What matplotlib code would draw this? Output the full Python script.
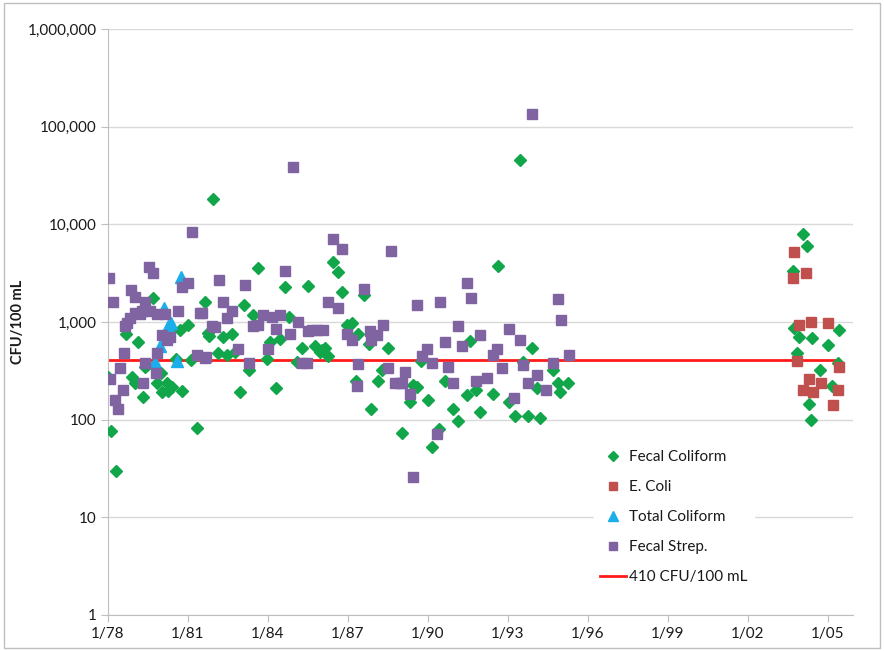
"""Bacteria counts (CFU/100 mL) over time, log scale, with 410 CFU/100 mL reference line."""

import matplotlib
matplotlib.use("Agg")
import matplotlib.pyplot as plt
from matplotlib.ticker import FixedLocator, FuncFormatter, NullLocator
from matplotlib.patches import Rectangle

plt.rcParams["font.family"] = ["Lato", "DejaVu Sans"]

# sample dates as decimal years, values in CFU/100 mL
fecal_coliform_t = [
    1978.00, 1978.11, 1978.30, 1978.68, 1978.90, 1979.01, 1979.13, 1979.31, 1979.39, 1979.46,
    1979.69, 1979.84, 1979.99, 1980.03, 1980.21, 1980.25, 1980.40, 1980.55, 1980.70, 1980.78,
    1981.00, 1981.11, 1981.34, 1981.64, 1981.75, 1981.79, 1981.94, 1982.13, 1982.31, 1982.46,
    1982.65, 1982.76, 1982.95, 1983.10, 1983.29, 1983.44, 1983.63, 1983.96, 1984.08, 1984.30,
    1984.45, 1984.64, 1984.79, 1985.09, 1985.28, 1985.50, 1985.76, 1985.95, 1986.03, 1986.14,
    1986.25, 1986.44, 1986.63, 1986.78, 1986.96, 1987.15, 1987.30, 1987.38, 1987.60, 1987.79,
    1987.86, 1988.13, 1988.28, 1988.50, 1989.03, 1989.33, 1989.44, 1989.59, 1989.74, 1990.00,
    1990.15, 1990.41, 1990.64, 1990.94, 1991.13, 1991.46, 1991.58, 1991.80, 1991.95, 1992.44,
    1992.63, 1993.04, 1993.26, 1993.45, 1993.56, 1993.75, 1993.90, 1994.09, 1994.20, 1994.69,
    1994.88, 1994.95, 1995.25,
    2003.69, 2003.72, 2003.84, 2003.91, 2004.06, 2004.21, 2004.29, 2004.36, 2004.40, 2004.70,
    2005.00, 2005.15, 2005.38, 2005.41,
]
fecal_coliform_v = [
    275, 77, 30, 754, 275, 240, 630, 170, 350, 363,
    1760, 235, 300, 190, 235, 195, 215, 420, 820, 195,
    930, 410, 83, 1600, 770, 720, 18000, 480, 700, 460,
    760, 490, 190, 1480, 320, 1190, 3570, 420, 630, 210,
    670, 2280, 1120, 390, 540, 2340, 570, 490, 520, 540,
    450, 4100, 3250, 2030, 930, 980, 250, 760, 1900, 590,
    130, 250, 320, 540, 73, 150, 225, 215, 400, 160,
    52, 80, 250, 130, 96, 180, 640, 200, 120, 185,
    3740, 150, 110, 46000, 390, 110, 540, 210, 105, 320,
    240, 190, 240,
    3300, 870, 480, 700, 7900, 6000, 145, 100, 680, 320,
    580, 220, 380, 830,
]

e_coli_t = [
    2003.73, 2004.18, 2003.69, 2003.91, 2004.36, 2005.00, 2003.84, 2005.41, 2004.29, 2004.74,
    2004.06, 2004.44, 2005.38, 2005.19,
]
e_coli_v = [
    5200, 3200, 2800, 930, 1000, 980, 400, 350, 260, 240,
    200, 190, 200, 140,
]

total_coliform_t = [1980.74, 1980.10, 1980.36, 1980.25, 1979.95, 1979.76, 1980.59]
total_coliform_v = [2890, 1390, 980, 900, 570, 390, 400]

fecal_strep_t = [
    1981.15, 1978.04, 1979.54, 1979.69, 1978.19, 1980.78, 1981.00, 1978.86, 1979.01, 1979.39,
    1978.83, 1979.01, 1979.20, 1979.28, 1979.58, 1979.84, 1980.14, 1980.63, 1981.45, 1978.71,
    1978.64, 1980.03, 1980.33, 1980.21, 1978.60, 1978.45, 1978.08, 1979.39, 1979.84, 1979.80,
    1979.31, 1978.56, 1978.26, 1978.38, 1981.34, 1981.68, 1984.64, 1982.16, 1983.14, 1981.53,
    1982.31, 1982.65, 1982.46, 1981.90, 1982.01, 1983.44, 1983.63, 1983.81, 1984.15, 1984.45,
    1984.30, 1985.13, 1984.83, 1985.50, 1982.88, 1984.00, 1983.29, 1981.64, 1985.28, 1985.46,
    1984.94, 1986.44, 1986.78, 1988.61, 1987.60, 1986.25, 1986.63, 1985.65, 1985.84, 1986.06,
    1986.96, 1987.15, 1987.83, 1988.09, 1988.31, 1987.86, 1987.38, 1988.50, 1987.34, 1989.14,
    1988.76, 1988.95, 1991.46, 1991.61, 1989.59, 1990.45, 1991.13, 1991.95, 1990.64, 1991.28,
    1989.96, 1989.78, 1990.15, 1990.75, 1992.44, 1992.59, 1989.03, 1989.33, 1990.94, 1991.80,
    1992.21, 1990.34, 1989.44, 1994.88, 1994.99, 1993.04, 1993.45, 1993.56, 1994.69, 1995.29,
    1992.78, 1994.09, 1993.75, 1994.43, 1993.23, 1993.90,
]
fecal_strep_v = [
    8300, 2800, 3700, 3200, 1600, 2300, 2500, 2150, 1800, 1600,
    1100, 1250, 1200, 1300, 1300, 1200, 1200, 1300, 1250, 980,
    900, 730, 700, 650, 480, 340, 260, 380, 480, 300,
    240, 200, 160, 130, 460, 440, 3300, 2700, 2400, 1250,
    1600, 1300, 1100, 900, 880, 900, 930, 1180, 1120, 1180,
    850, 1000, 750, 800, 530, 530, 380, 430, 380, 380,
    39000, 7000, 5600, 5300, 2200, 1600, 1400, 830, 830, 830,
    760, 650, 800, 730, 930, 660, 370, 340, 220, 310,
    240, 240, 2500, 1750, 1500, 1600, 910, 740, 630, 570,
    530, 450, 380, 350, 460, 530, 240, 185, 240, 250,
    270, 71, 26, 1700, 1050, 850, 650, 360, 380, 460,
    340, 290, 240, 200, 165, 136000,
]

limit_t = [1978.0, 2005.41]
limit_v = [410, 410]

x_ticks = [1978, 1981, 1984, 1987, 1990, 1993, 1996, 1999, 2002, 2005]
y_ticks = [1, 10, 100, 1000, 10000, 100000, 1000000]

GREEN = "#12A64A"
RED = "#C0504D"
BLUE = "#1AAEEA"
PURPLE = "#8064A2"
LINE_RED = "#FF1A1A"
GRID = "#D9D9D9"
TEXT = "#1A1A1A"


def main():
    fig = plt.figure(figsize=(8.84, 6.51), dpi=100)
    ax = fig.add_axes([108 / 884, 1 - 615 / 651, (853 - 108) / 884, (615 - 29) / 651])

    h_line, = ax.plot(limit_t, limit_v, color=LINE_RED, lw=2, zorder=2)
    h_fc, = ax.plot(fecal_coliform_t, fecal_coliform_v, ls="none", marker="D", ms=6.5,
                    color=GREEN, mec=GREEN, zorder=3)
    h_ec, = ax.plot(e_coli_t, e_coli_v, ls="none", marker="s", ms=7,
                    color=RED, mec=RED, zorder=4)
    h_tc, = ax.plot(total_coliform_t, total_coliform_v, ls="none", marker="^", ms=8,
                    color=BLUE, mec=BLUE, zorder=4)
    h_fs, = ax.plot(fecal_strep_t, fecal_strep_v, ls="none", marker="s", ms=7,
                    color=PURPLE, mec=PURPLE, zorder=5)

    ax.set_yscale("log")
    ax.set_ylim(1, 1000000)
    ax.set_xlim(1978, 2005.94)
    ax.yaxis.set_major_locator(FixedLocator(y_ticks))
    ax.yaxis.set_minor_locator(NullLocator())
    ax.yaxis.set_major_formatter(FuncFormatter(lambda v, p: f"{int(round(v)):,}"))
    ax.xaxis.set_major_locator(FixedLocator(x_ticks))
    ax.xaxis.set_major_formatter(FuncFormatter(lambda v, p: f"1/{int(round(v)) % 100:02d}"))

    ax.grid(axis="y", color=GRID, lw=1, zorder=0)
    ax.set_axisbelow(True)
    for side in ("top", "right"):
        ax.spines[side].set_visible(False)
    for side in ("left", "bottom"):
        ax.spines[side].set_color("#BFBFBF")
    ax.tick_params(axis="both", colors="#BFBFBF", labelcolor=TEXT, labelsize=11, length=5)
    ax.tick_params(axis="y", pad=3)

    fig.text(18 / 884, 1 - 322 / 651, "CFU/100 mL", rotation=90, ha="center", va="center",
             fontsize=10.5, fontweight="bold", color=TEXT)

    leg = ax.legend([h_fc, h_ec, h_tc, h_fs, h_line],
                    ["Fecal Coliform", "E. Coli", "Total Coliform", "Fecal Strep.", "410 CFU/100 mL"],
                    loc="upper left", bbox_to_anchor=(594 / 884, 1 - 444 / 651),
                    bbox_transform=fig.transFigure, frameon=True, facecolor="white",
                    edgecolor="white", framealpha=1, fontsize=11, labelspacing=1.05,
                    handlelength=1.7, handletextpad=0.2, markerscale=0.85, borderpad=0.4,
                    borderaxespad=0)
    for t in leg.get_texts():
        t.set_color(TEXT)

    # outer chart border
    fig.patches.append(Rectangle((0.004, 0.004), 0.992, 0.992, transform=fig.transFigure,
                                 fill=False, edgecolor="#BFBFBF", lw=1))

    fig.savefig("out.png", dpi=100)
    plt.close(fig)


if __name__ == "__main__":
    main()
